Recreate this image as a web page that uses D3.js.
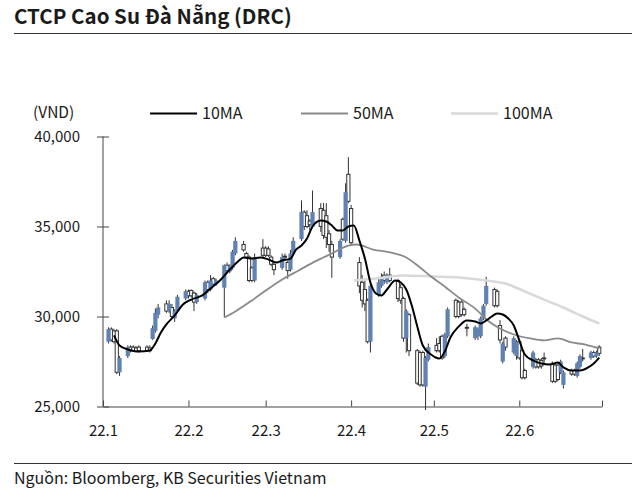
<!DOCTYPE html>
<html><head><meta charset="utf-8">
<script src="https://cdn.jsdelivr.net/npm/d3@7"></script>
<style>body{margin:0;background:#fff}svg{display:block}</style>
</head><body>
<svg id="c" width="640" height="497"></svg>
<script>
// ---------- DATA ----------
const titleText = "CTCP Cao Su Đà Nẵng (DRC)";
const sourceText = "Nguồn: Bloomberg, KB Securities Vietnam";
const unitLabel = "(VND)";
const seriesNames = ["10MA", "50MA", "100MA"];
const yTicks = [25000, 30000, 35000, 40000];
const xTickDates = ["2022-01-01","2022-02-01","2022-03-01","2022-04-01","2022-05-01","2022-06-01","2022-07-01"];
const xTickLabels = ["22.1","22.2","22.3","22.4","22.5","22.6",""];

const dates = [
"2022-01-03","2022-01-04","2022-01-05","2022-01-06","2022-01-07","2022-01-10","2022-01-11","2022-01-12","2022-01-13","2022-01-14",
"2022-01-17","2022-01-18","2022-01-19","2022-01-20","2022-01-21","2022-01-24","2022-01-25","2022-01-26","2022-01-27","2022-01-28",
"2022-01-31","2022-02-01","2022-02-02","2022-02-03","2022-02-04","2022-02-07","2022-02-08","2022-02-09","2022-02-10","2022-02-11",
"2022-02-14","2022-02-15","2022-02-16","2022-02-17","2022-02-18","2022-02-21","2022-02-22","2022-02-23","2022-02-24","2022-02-25",
"2022-02-28","2022-03-01","2022-03-02","2022-03-03","2022-03-04","2022-03-07","2022-03-08","2022-03-09","2022-03-10","2022-03-11",
"2022-03-14","2022-03-15","2022-03-16","2022-03-17","2022-03-18","2022-03-21","2022-03-22","2022-03-23","2022-03-24","2022-03-25",
"2022-03-28","2022-03-29","2022-03-30","2022-03-31","2022-04-01","2022-04-04","2022-04-05","2022-04-06","2022-04-07","2022-04-08",
"2022-04-11","2022-04-12","2022-04-13","2022-04-14","2022-04-15","2022-04-18","2022-04-19","2022-04-20","2022-04-21","2022-04-22",
"2022-04-25","2022-04-26","2022-04-27","2022-04-28","2022-04-29","2022-05-02","2022-05-03","2022-05-04","2022-05-05","2022-05-06",
"2022-05-09","2022-05-10","2022-05-11","2022-05-12","2022-05-13","2022-05-16","2022-05-17","2022-05-18","2022-05-19","2022-05-20",
"2022-05-23","2022-05-24","2022-05-25","2022-05-26","2022-05-27","2022-05-30","2022-05-31","2022-06-01","2022-06-02","2022-06-03",
"2022-06-06","2022-06-07","2022-06-08","2022-06-09","2022-06-10","2022-06-13","2022-06-14","2022-06-15","2022-06-16","2022-06-17",
"2022-06-20","2022-06-21","2022-06-22","2022-06-23","2022-06-24","2022-06-27","2022-06-28","2022-06-29","2022-06-30"];

const open = [
28600,29300,29200,29200,26900,27800,28300,28300,28250,28300,
28300,28250,28750,29200,30100,30700,30300,30500,29900,30300,
31000,31400,31450,31300,30800,31000,31900,31500,32100,31800,
31600,32850,32500,32700,33500,34000,33500,33300,32700,32000,
33800,33800,33750,33300,32900,32700,33350,33000,32600,33500,
34300,35800,35600,35300,35000,36000,35900,35600,34600,34000,
33300,35400,34200,37900,36000,33000,31900,31500,30900,28600,
31200,31700,32300,31900,32300,32000,31600,31000,28800,30100,
28100,28000,28000,26100,27600,28400,28500,28900,27800,28900,
30900,30800,30800,30400,29400,28800,28900,28900,29900,30700,
31500,31400,29500,27500,28800,28000,27800,28600,28100,27000,
27200,27600,27600,27550,27700,27400,27300,27300,26900,26200,
27000,27000,26700,27200,27700,27700,28000,27800,28300];
const high = [
29400,29400,29300,29300,27800,28400,28400,28400,28350,28400,
28400,28400,29500,30450,30700,30900,30900,30700,30400,31200,
31500,31500,31500,31400,31300,32000,32000,32300,32200,32100,
32900,33000,32900,33700,34400,34200,33600,33400,32800,33500,
34300,33900,33900,33400,33000,33500,33500,33100,33700,34400,
36450,35900,35900,35400,37000,36300,36300,36300,34800,34200,
34300,35500,37400,38850,36200,33300,32300,32000,31000,31900,
32200,32400,32500,32400,32700,32100,31800,31100,30400,30200,
28200,28100,28100,27800,28500,28800,28900,29000,29100,30500,
31000,30900,30900,30500,29600,29500,29400,30000,30700,32200,
31600,31500,29800,28600,28900,28900,28700,28700,28200,27100,
28100,27700,27700,27700,28000,27500,27400,27400,27600,27000,
27100,27100,27500,27900,28200,28100,28100,28100,28400];
const low = [
28500,28600,28500,26800,26700,27700,28000,28050,28000,28000,
28050,28000,28700,29100,29900,30200,30200,29900,29700,30200,
30900,31000,31050,30300,30700,30900,31300,31400,31700,31700,
29950,32400,32400,32600,33400,33600,33200,31900,31900,31900,
33300,33300,33300,32800,32300,32600,33100,32100,32500,33400,
34200,34800,34900,34800,34900,34700,34300,33800,33600,32150,
33200,34200,34100,36300,34000,31300,30500,30300,28500,28000,
31100,31600,31800,31800,31900,30800,30700,28600,28000,27800,
26200,26100,26100,24800,27500,28000,28000,27600,27700,28800,
29900,29900,30000,30000,28900,28700,28700,28800,29800,30600,
30500,30500,28500,27400,28100,27900,27600,27600,26500,26500,
27100,27100,27100,27100,27400,26300,26300,26400,26800,26000,
26700,26700,26600,27100,27500,27600,27700,27700,27800];
const close = [
29300,28700,28600,26900,27700,28300,28100,28100,28050,28100,
28100,28100,29350,30200,30500,30300,30700,30000,30300,31100,
31400,31150,31150,30800,31200,31900,31500,32000,31800,32000,
32850,32550,32800,33600,34200,33700,33300,32000,32000,33300,
33400,33400,33400,32900,32600,33300,33300,32550,33500,34200,
35800,35000,35000,35100,35800,35000,34500,34400,34000,33300,
34200,34300,36900,36400,34100,31700,30900,30700,28600,31700,
31900,32200,32000,32300,32000,31000,30900,28800,30300,28100,
26300,26200,26200,27700,28300,28100,28100,27700,29000,30400,
30000,30000,30100,30100,29350,29400,29300,29900,30600,31700,
30600,30600,28700,28500,28300,28800,28600,27700,26600,26600,
28000,27200,27200,27250,27650,26400,26400,26500,27500,26900,
26800,26800,27400,27800,27650,28000,27800,28000,27950];

// moving averages
const ma10Dates = ["2022-01-05","2022-01-07","2022-01-10","2022-01-14","2022-01-18","2022-01-20","2022-01-22","2022-01-24","2022-01-27","2022-01-30",
"2022-02-02","2022-02-06","2022-02-09","2022-02-12","2022-02-16","2022-02-19","2022-02-21","2022-02-24","2022-02-27","2022-03-02",
"2022-03-05","2022-03-07","2022-03-10","2022-03-12","2022-03-14","2022-03-16","2022-03-18","2022-03-21","2022-03-23","2022-03-25",
"2022-03-27","2022-03-29","2022-03-31","2022-04-02","2022-04-04","2022-04-06","2022-04-08","2022-04-10","2022-04-12","2022-04-14",
"2022-04-17","2022-04-19","2022-04-21","2022-04-23","2022-04-25","2022-04-27","2022-04-30","2022-05-03","2022-05-05","2022-05-07",
"2022-05-10","2022-05-13","2022-05-16","2022-05-18","2022-05-20","2022-05-22","2022-05-24","2022-05-26","2022-05-28","2022-05-30",
"2022-06-01","2022-06-03","2022-06-06","2022-06-09","2022-06-12","2022-06-15","2022-06-17","2022-06-20","2022-06-23","2022-06-26",
"2022-06-28","2022-06-30"];
const ma10 = [28950,28390,28170,28060,28110,28500,29110,29560,30060,30670,
30940,31170,31560,31940,32610,33060,33280,33220,33280,33170,
33000,33110,33220,33720,33940,34330,35000,35330,35280,35060,
34780,34780,35000,35060,34220,33220,31890,31280,31170,31500,
32000,31890,31500,30610,29440,28390,27890,27670,28060,28830,
29440,29780,29720,29610,29780,30000,30170,30110,29890,29500,
28670,27890,27560,27390,27330,27440,27170,27000,27000,27170,
27390,27720];
const ma50Dates = ["2022-02-14","2022-02-18","2022-02-24","2022-03-01","2022-03-07","2022-03-13","2022-03-19","2022-03-25","2022-03-31","2022-04-03",
"2022-04-09","2022-04-15","2022-04-21","2022-04-26","2022-04-30","2022-05-04","2022-05-10","2022-05-16","2022-05-21","2022-05-25",
"2022-05-30","2022-06-05","2022-06-10","2022-06-15","2022-06-20","2022-06-25","2022-06-30"];
const ma50 = [29940,30280,30890,31440,32060,32560,33060,33500,33940,34000,
33720,33560,33280,32720,32220,31780,31060,30440,29720,29330,
29000,28780,28670,28780,28560,28440,28220];
const ma100Dates = ["2022-04-02","2022-04-10","2022-04-20","2022-05-01","2022-05-10","2022-05-20","2022-05-27","2022-06-03","2022-06-10","2022-06-17","2022-06-24","2022-06-30"];
const ma100 = [32000,32110,32280,32220,32170,32000,31830,31390,30940,30500,30000,29610];

// ---------- CHART ----------
const FONT = "'Noto Sans CJK KR','Noto Sans',sans-serif";
const parse = d3.utcParse("%Y-%m-%d");
const svg = d3.select("#c").style("font-family", FONT);
const ink = "#1a1a1a", axisCol = "#444";

const x = d3.scaleUtc().domain([parse("2022-01-01"), parse("2022-07-01")]).range([103, 602]);
const y = d3.scaleLinear().domain([25000, 40000]).range([406.5, 136.5]);

// title & rules
svg.append("text").attr("x", 14).attr("y", 24).attr("font-size", 20.5).attr("font-weight", 700)
  .attr("fill", ink).text(titleText);
svg.append("line").attr("x1", 14).attr("x2", 632).attr("y1", 33.5).attr("y2", 33.5).attr("stroke", "#333").attr("stroke-width", 1);
svg.append("line").attr("x1", 14).attr("x2", 632).attr("y1", 463.5).attr("y2", 463.5).attr("stroke", "#333").attr("stroke-width", 1);
svg.append("text").attr("x", 14).attr("y", 484).attr("font-size", 16).attr("fill", ink).text(sourceText);

// legend
svg.append("text").attr("x", 33).attr("y", 118).attr("font-size", 15.5).attr("fill", ink).text(unitLabel);
const legCols = ["#000", "#8a8a8a", "#d9d9d9"];
const legX = [150, 301, 451];
seriesNames.forEach((n, i) => {
  svg.append("line").attr("x1", legX[i]).attr("x2", legX[i] + 47).attr("y1", 113.5).attr("y2", 113.5)
    .attr("stroke", legCols[i]).attr("stroke-width", i === 2 ? 2.5 : 2);
  svg.append("text").attr("x", legX[i] + 52).attr("y", 119).attr("font-size", 16).attr("fill", ink).text(n);
});

// axes
const yAxis = svg.append("g").attr("transform", "translate(103,0)")
  .call(d3.axisLeft(y).tickValues(yTicks).tickSizeOuter(0).tickSize(6).tickFormat(d3.format(",")));
yAxis.select(".domain").attr("stroke", axisCol).attr("d", `M0,${y(40000)}V${y(25000)}`);
yAxis.selectAll(".tick line").attr("x1", -6).attr("x2", 6).attr("stroke", axisCol);
yAxis.selectAll(".tick text").attr("x", -23).attr("font-size", 15).attr("fill", ink).attr("font-family", FONT);

const xAxis = svg.append("g").attr("transform", `translate(0,${y(25000)})`)
  .call(d3.axisBottom(x).tickValues(xTickDates.map(parse)).tickSizeInner(-6).tickSizeOuter(0)
    .tickFormat((d, i) => xTickLabels[i]));
xAxis.select(".domain").attr("stroke", axisCol);
xAxis.selectAll(".tick line").attr("stroke", axisCol);
xAxis.selectAll(".tick text").attr("y", 19).attr("font-size", 15).attr("fill", ink).attr("font-family", FONT);

// candles: wicks first, hollow (down) bodies, then filled (up) bodies on top
const candles = svg.append("g");
const pts = dates.map((ds, i) => ({ cx: x(parse(ds)), o: open[i], h: high[i], l: low[i], c: close[i] }));
pts.forEach(p => {
  candles.append("line").attr("x1", p.cx).attr("x2", p.cx).attr("y1", y(p.h)).attr("y2", y(p.l))
    .attr("stroke", "#333").attr("stroke-width", 1);
});
pts.filter(p => p.c < p.o).forEach(p => {
  const top = y(p.o), bot = y(p.c), w = 3.2;
  candles.append("rect").attr("x", p.cx - w / 2).attr("y", top).attr("width", w).attr("height", Math.max(1, bot - top))
    .attr("fill", "#fff").attr("stroke", "#333").attr("stroke-width", 1);
});
pts.filter(p => p.c >= p.o).forEach(p => {
  const top = y(p.c), bot = y(p.o), w = 4.2;
  candles.append("rect").attr("x", p.cx - w / 2).attr("y", top).attr("width", w).attr("height", Math.max(1, bot - top))
    .attr("fill", "#5f82b2");
});

// moving averages
const lineGen = d3.line().x(d => x(d[0])).y(d => y(d[1])).curve(d3.curveMonotoneX);
const maSets = [[ma100Dates, ma100, "#d9d9d9", 2.5], [ma50Dates, ma50, "#8a8a8a", 1.8], [ma10Dates, ma10, "#000", 2]];
maSets.forEach(([ds, vs, col, w]) => {
  svg.append("path").attr("d", lineGen(ds.map((d, i) => [parse(d), vs[i]])))
    .attr("fill", "none").attr("stroke", col).attr("stroke-width", w);
});
</script>
</body></html>
